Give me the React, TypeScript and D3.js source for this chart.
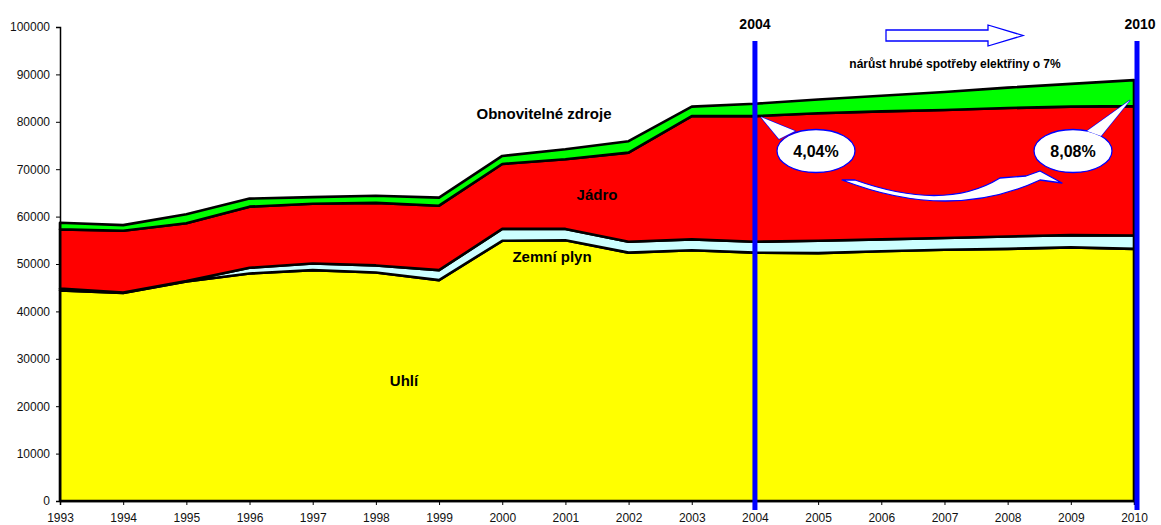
import { useEffect, useRef } from "react";
import * as d3 from "d3";

const years = [1993, 1994, 1995, 1996, 1997, 1998, 1999, 2000, 2001, 2002, 2003, 2004, 2005, 2006, 2007, 2008, 2009, 2010];
const uhli = [44400, 43900, 46300, 48000, 48700, 48200, 46600, 54900, 55000, 52400, 52900, 52400, 52300, 52700, 53000, 53200, 53500, 53200];
const plyn = [400, 100, 100, 1200, 1400, 1500, 2100, 2500, 2400, 2300, 2300, 2300, 2600, 2500, 2500, 2600, 2600, 2800];
const jadro = [12500, 13000, 12200, 12900, 12600, 13200, 13600, 13700, 14700, 18800, 26000, 26500, 26900, 27000, 27000, 27100, 27100, 27300];
const obnovitelne = [1400, 1200, 1900, 1700, 1400, 1500, 1700, 1700, 2100, 2400, 2000, 2600, 2900, 3300, 3800, 4300, 4800, 5500];
const yTicks = [0, 10000, 20000, 30000, 40000, 50000, 60000, 70000, 80000, 90000, 100000];
const seriesKeys = ["uhli", "plyn", "jadro", "obnovitelne"];
const seriesColors = ["#FFFF00", "#CCFFFF", "#FF0000", "#00FF00"];
const markedYears = [2004, 2010];
const shares = [
  { year: 2004, text: "4,04%" },
  { year: 2010, text: "8,08%" },
];

const App = () => {
  const container = useRef<SVGSVGElement>(null);

  useEffect(() => {
    const svg = d3.select(container.current);
    svg.selectAll("*").remove();
    const font = "Liberation Sans, Arial, sans-serif";

    const x = d3.scaleLinear().domain([1993, 2010]).range([60, 1134]);
    const y = d3.scaleLinear().domain([0, 100000]).range([501, 27]);

    const rows = years.map((yr, i) => ({
      year: yr,
      uhli: uhli[i],
      plyn: plyn[i],
      jadro: jadro[i],
      obnovitelne: obnovitelne[i],
    }));
    const stacked = d3.stack<any>().keys(seriesKeys)(rows);

    const area = d3.area<any>()
      .x((d) => x(d.data.year))
      .y0((d) => y(d[0]))
      .y1((d) => y(d[1]));

    svg.append("g")
      .selectAll("path")
      .data(stacked)
      .join("path")
      .attr("d", area)
      .attr("fill", (d, i) => seriesColors[i])
      .attr("stroke", "#000")
      .attr("stroke-width", 2.6)
      .attr("stroke-linejoin", "round");

    // axes
    const yAxis = svg.append("g")
      .attr("transform", "translate(60,0)")
      .call(d3.axisLeft(y).tickValues(yTicks).tickSize(4).tickPadding(6).tickFormat(d3.format("d")));
    const xAxis = svg.append("g")
      .attr("transform", "translate(0,501)")
      .call(d3.axisBottom(x).tickValues(years).tickSize(4).tickPadding(8).tickFormat(d3.format("d")));
    [yAxis, xAxis].forEach((g) => {
      g.select(".domain").attr("stroke", "#000").attr("stroke-width", 1.5);
      g.selectAll(".tick line").attr("stroke", "#000");
      g.selectAll(".tick text").style("font-family", font).style("font-size", "12px").attr("fill", "#111");
    });

    // series labels
    const labels = [
      { t: "Obnovitelné zdroje", x: 544, y: 119 },
      { t: "Jádro", x: 597, y: 200 },
      { t: "Zemní plyn", x: 552, y: 262 },
      { t: "Uhlí", x: 404, y: 386 },
    ];
    svg.selectAll("text.lbl")
      .data(labels)
      .join("text")
      .attr("class", "lbl")
      .attr("x", (d) => d.x)
      .attr("y", (d) => d.y)
      .attr("text-anchor", "middle")
      .style("font-family", font)
      .style("font-size", "15px")
      .style("font-weight", "bold")
      .text((d) => d.t);

    // blue year markers
    svg.selectAll("line.mark")
      .data(markedYears)
      .join("line")
      .attr("class", "mark")
      .attr("x1", (d) => x(d) + (d === 2010 ? 3 : 0))
      .attr("x2", (d) => x(d) + (d === 2010 ? 3 : 0))
      .attr("y1", 41)
      .attr("y2", 510)
      .attr("stroke", "#0000FF")
      .attr("stroke-width", 5);
    svg.selectAll("text.mark")
      .data(markedYears)
      .join("text")
      .attr("class", "mark")
      .attr("x", (d) => x(d) + (d === 2010 ? 6 : 0))
      .attr("y", 29)
      .attr("text-anchor", "middle")
      .style("font-family", font)
      .style("font-size", "14px")
      .style("font-weight", "bold")
      .text((d) => d);

    // straight block arrow
    svg.append("path")
      .attr("d", "M886,30 L988,30 L988,25 L1023,35.5 L988,46 L988,41 L886,41 Z")
      .attr("fill", "#fff")
      .attr("stroke", "#0000FF")
      .attr("stroke-width", 1.3);
    svg.append("text")
      .attr("x", 955)
      .attr("y", 68)
      .attr("text-anchor", "middle")
      .style("font-family", font)
      .style("font-size", "12px")
      .style("font-weight", "bold")
      .text("nárůst hrubé spotřeby elektřiny o 7%");

    // curved arrow
    svg.append("path")
      .attr("d", "M855,180 Q945,212 1000,178 L1026,176 L1040,171 L1062,183 L1040,180 Q950,222 842,180 Z")
      .attr("fill", "#fff")
      .attr("stroke", "#0000FF")
      .attr("stroke-width", 1.3)
      .attr("stroke-linejoin", "round");

    // callouts
    shares.forEach((s) => {
      const top = stacked[2].find((d: any) => d.data.year === s.year)!;
      const is2010 = s.year === 2010;
      const tipX = is2010 ? x(s.year) - 4 : x(s.year) + 6;
      const tipY = y(top[1]) - (is2010 ? 6 : -1);
      const cx = is2010 ? 1073 : 816;
      const cy = 151;
      const g = svg.append("g");
      const wedge = is2010
        ? `M${cx + 14},${cy - 20} L${tipX},${tipY} L${cx + 28},${cy - 15}`
        : `M${cx - 37},${cy - 12} L${tipX},${tipY} L${cx - 21},${cy - 20}`;
      g.append("path").attr("d", wedge + " Z")
        .attr("fill", "#fff").attr("stroke", "#0000FF").attr("stroke-width", 1.3);
      g.append("ellipse")
        .attr("cx", cx).attr("cy", cy).attr("rx", 39).attr("ry", 21.5)
        .attr("fill", "#fff").attr("stroke", "#0000FF").attr("stroke-width", 1.3);
      // cover the seam between wedge and ellipse
      g.append("path").attr("d", wedge)
        .attr("fill", "#fff").attr("stroke", "none");
      g.append("text")
        .attr("x", cx).attr("y", cy + 5.5)
        .attr("text-anchor", "middle")
        .style("font-family", font)
        .style("font-size", "16px")
        .style("font-weight", "bold")
        .text(s.text);
    });
  }, []);

  return (
    <svg
      ref={container}
      width={1161}
      height={525}
      style={{ position: "absolute", left: 0, top: 0, background: "#fff" }}
    />
  );
};

export default App;
